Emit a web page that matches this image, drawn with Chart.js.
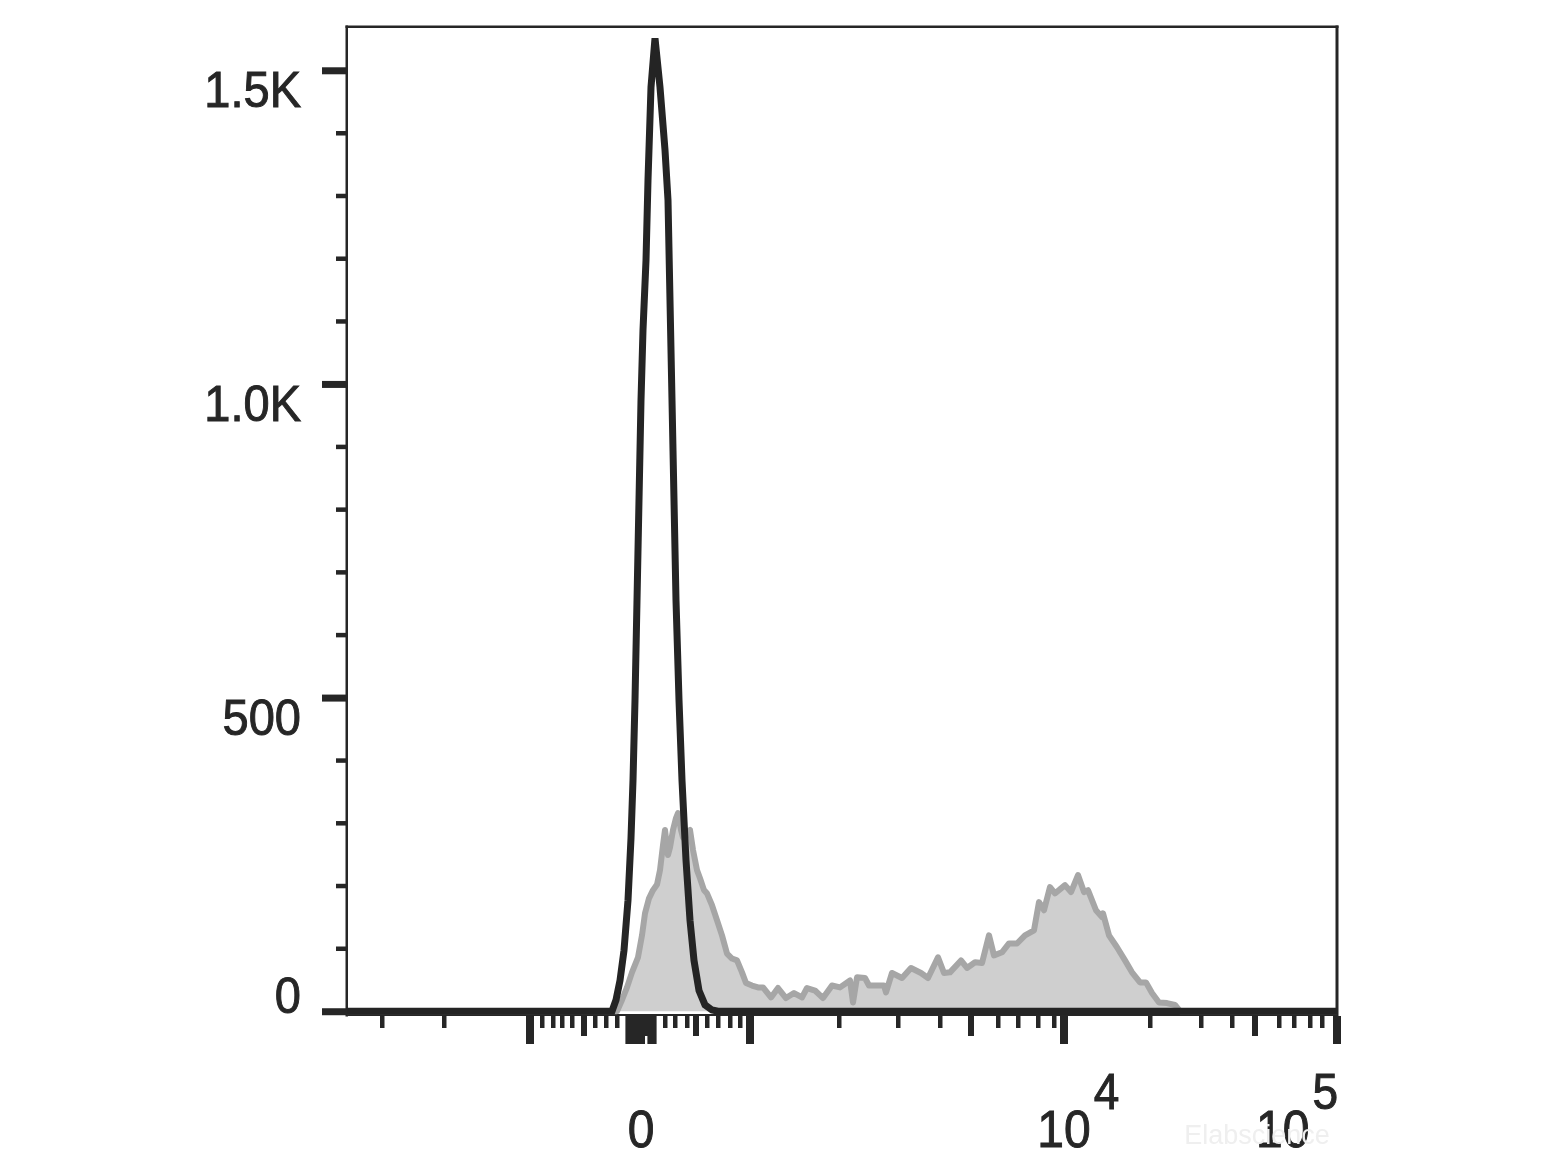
<!DOCTYPE html>
<html>
<head>
<meta charset="utf-8">
<script src="https://cdn.jsdelivr.net/npm/chart.js@4.4.1/dist/chart.umd.min.js"></script>
<style>
html,body{margin:0;padding:0;background:#fff;}
#wrap{width:1560px;height:1170px;}
</style>
</head>
<body>
<div id="wrap"><canvas id="c" width="1560" height="1170"></canvas></div>
<script>
// ---- Data (x in display channel units, 0..990; y = count) ----
const controlChannel = [0, 265,269,273,277,281,284,286,288,290,292,294,296,299,301,304,308,313,318,321,323,325,327,329,332,335,339,343,347,352,358,365,371, 990];
const controlCount   = [0, 0,18,49,97,177,276,368,496,655,815,974,1086,1197,1325,1473,1551,1473,1373,1293,1133,974,815,655,496,368,241,145,81,33,10,2,0, 0];

const stainedChannel = [0,
  270,275,280,285,291,295,298,302,306,310,
  313,316,318,321,323,326,329,331,334,336,
  339,343,346,350,353,357,360,365,370,375,
  380,385,390,395,399,405,411,416,424,431,
  439,447,455,460,468,476,485,493,503,506,
  510,518,522,537,539,545,555,564,574,581,
  591,597,603,614,620,628,635,642,647,655,
  662,670,678,687,692,697,703,708,712,718,
  724,731,737,741,749,755,756,762,770,778,
  785,793,799,805,812,820,828,833, 990];
const stainedCount = [0,
  0,18,38,62,86,121,156,180,193,202,
  225,265,289,249,261,289,308,316,289,277,
  285,289,257,225,212,193,188,169,145,121,
  92,84,81,62,45,41,38,38,22,37,
  21,29,22,37,33,21,41,38,49,14,
  54,53,41,41,30,61,53,69,61,53,
  86,61,62,81,69,78,77,121,89,94,
  108,108,121,129,174,161,198,188,193,201,
  190,217,190,193,161,150,156,121,102,81,
  62,46,46,29,14,13,10,0, 0];

// ---- Axis ticks ----
const yMajorTicks = [0, 500, 1000, 1500];
const yTickLabels = ['0', '500', '1.0K', '1.5K'];
const yMinorTicks = [100,200,300,400,600,700,800,900,1100,1200,1300,1400];

const xMajorTicks  = [183, 294, 403, 717, 990];
const xMediumTicks = [237, 299, 349, 624, 908];
const xMinorTicks  = [35, 97, 195, 206, 215, 225, 248, 259, 270, 318, 328, 340, 360, 371, 383, 393,
                      492, 551, 593, 651, 671, 691, 707, 803, 854, 885, 932, 947, 963, 975];
const xDenseTicks  = [280,282,284,286,288,290,292,294,296,302,304,306,308];
const xLabelTicks  = [294, 717, 990];
const xTickLabels  = ['0', '10^4', '10^5'];
const watermark = 'Elabscience';

const INK = '#262626';
const FONT = "'Liberation Sans', Arial, sans-serif";
const STRETCH = 1.08;

function txt(ctx, s, x, y) {
  ctx.save();
  ctx.translate(x, y);
  ctx.scale(1, STRETCH);
  ctx.fillText(s, 0, 0);
  ctx.strokeText(s, 0, 0);
  ctx.restore();
}

const decor = {
  id: 'decor',
  beforeDatasetsDraw(chart) {
    const {ctx, chartArea: a} = chart;
    ctx.save();
    ctx.fillStyle = INK;
    ctx.fillRect(a.left - 1.5, a.top - 1.5, a.right - a.left + 3, 2.5);
    ctx.fillRect(a.left - 1.5, a.top - 1.5, 2.5, a.bottom - a.top + 3);
    ctx.fillRect(a.right - 1.5, a.top - 1.5, 3, a.bottom - a.top + 3);
    ctx.fillRect(a.left, a.bottom - 1, a.right - a.left, 2);
    ctx.restore();
  },
  afterDraw(chart) {
    const {ctx, chartArea: a} = chart;
    const xs = chart.scales.x, ys = chart.scales.y;
    ctx.save();
    ctx.fillStyle = INK;
    ctx.strokeStyle = INK;
    ctx.lineWidth = 0.9;
    // y ticks
    yMajorTicks.forEach(v => {
      const p = ys.getPixelForValue(v);
      ctx.fillRect(a.left - 25, p - 3, 25, 7);
    });
    yMinorTicks.forEach(v => {
      const p = ys.getPixelForValue(v);
      ctx.fillRect(a.left - 11, p - 2, 11, 4.5);
    });
    // x ticks
    const top = a.bottom + 1;
    xDenseTicks.forEach(v => { const p = xs.getPixelForValue(v); ctx.fillRect(p - 1.6, top, 3.2, 28); });
    xMinorTicks.forEach(v => { const p = xs.getPixelForValue(v); ctx.fillRect(p - 2, top, 4.5, 12); });
    xMediumTicks.forEach(v => { const p = xs.getPixelForValue(v); ctx.fillRect(p - 3, top, 6, 20); });
    xMajorTicks.forEach(v => { const p = xs.getPixelForValue(v); ctx.fillRect(p - 4, top, 8, 28); });

    // y labels
    ctx.font = '47px ' + FONT;
    ctx.textAlign = 'right';
    ctx.textBaseline = 'alphabetic';
    yMajorTicks.forEach((v, i) => {
      const p = ys.getPixelForValue(v);
      const base = (i === 0) ? p + 2 : p + 37;
      txt(ctx, yTickLabels[i], a.left - 46, base);
    });

    // x labels
    const baseY = a.bottom + 132;
    xLabelTicks.forEach((v, i) => {
      const p = xs.getPixelForValue(v);
      const parts = xTickLabels[i].split('^');
      ctx.font = '48px ' + FONT;
      const bw = ctx.measureText(parts[0]).width;
      let sw = 0;
      if (parts[1]) { ctx.font = '46px ' + FONT; sw = ctx.measureText(parts[1]).width + 3; }
      let left = p - bw / 2;
      if (left + bw + sw > a.right + 1) left = a.right + 1 - bw - sw;
      ctx.textAlign = 'left';
      ctx.font = '48px ' + FONT;
      txt(ctx, parts[0], left, baseY);
      if (parts[1]) {
        ctx.font = '46px ' + FONT;
        txt(ctx, parts[1], left + bw + 3, baseY - 38);
      }
    });

    // faint watermark
    ctx.font = '27px ' + FONT;
    ctx.fillStyle = '#efefef';
    ctx.textAlign = 'center';
    ctx.fillText(watermark, a.right - 80, a.bottom + 129);
    ctx.restore();
  }
};

new Chart(document.getElementById('c'), {
  type: 'line',
  data: {
    datasets: [
      {
        label: 'Control',
        data: controlChannel.map((x, i) => ({x, y: controlCount[i]})),
        borderColor: '#242424',
        borderWidth: 7,
        fill: false,
        pointRadius: 0,
        tension: 0,
        borderJoinStyle: 'miter',
        order: 0
      },
      {
        label: 'Stained',
        data: stainedChannel.map((x, i) => ({x, y: stainedCount[i]})),
        borderColor: '#a6a6a6',
        backgroundColor: '#cfcfcf',
        borderWidth: 6,
        fill: 'origin',
        pointRadius: 0,
        tension: 0,
        borderJoinStyle: 'round',
        order: 1
      }
    ]
  },
  options: {
    responsive: false,
    animation: false,
    layout: { padding: { left: 347, right: 223, top: 27, bottom: 155 } },
    plugins: { legend: { display: false }, tooltip: { enabled: false } },
    scales: {
      x: { type: 'linear', min: 0, max: 990, display: false },
      y: { type: 'linear', min: -6, max: 1569, display: false }
    }
  },
  plugins: [decor]
});
</script>
</body>
</html>
